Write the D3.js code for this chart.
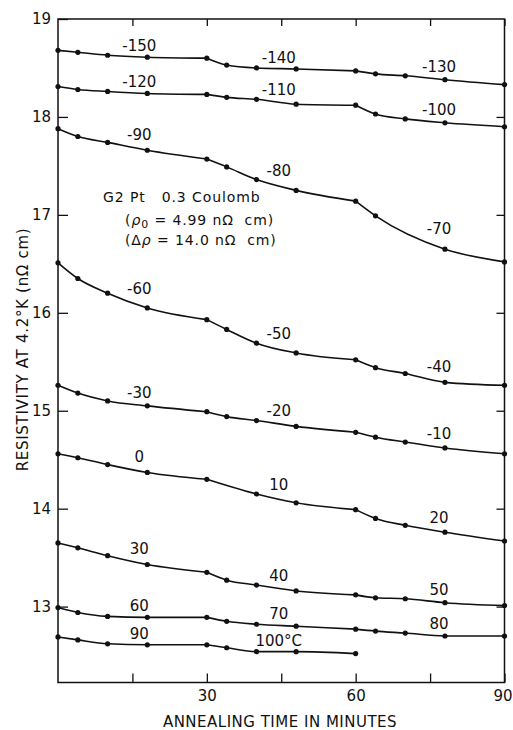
<!DOCTYPE html>
<html>
<head>
<meta charset="utf-8">
<script src="https://cdn.jsdelivr.net/npm/d3@7"></script>
<style>
  html, body { margin: 0; padding: 0; background: #fff; }
  svg { display: block; font-family: "DejaVu Sans", "Liberation Sans", sans-serif; }
  text { fill: #111; }
</style>
</head>
<body>
<svg id="chart" width="513" height="730"></svg>
<script>
// Cumulative annealing time (minutes) at which resistivity was measured
const times = [0, 4, 10, 18, 30, 34, 40, 48, 60, 64, 70, 78, 90];

// Resistivity at 4.2 K (nΩ cm) for each run; null = no measurement
const curveM150 = [18.68, 18.66, 18.63, 18.61, 18.60, 18.53, 18.50, 18.49, 18.47, 18.44, 18.42, 18.38, 18.33];
const curveM120 = [18.31, 18.28, 18.26, 18.24, 18.23, 18.20, 18.18, 18.13, 18.12, 18.03, 17.98, 17.94, 17.90];
const curveM90  = [17.88, 17.80, 17.74, 17.66, 17.57, 17.49, 17.36, 17.25, 17.14, 16.99, null, 16.65, 16.52];
const curveM60  = [16.51, 16.35, 16.20, 16.05, 15.93, 15.83, 15.69, 15.59, 15.52, 15.44, 15.38, 15.29, 15.26];
const curveM30  = [15.26, 15.18, 15.10, 15.05, 14.99, 14.94, 14.90, 14.84, 14.78, 14.73, 14.68, 14.62, 14.56];
const curve0    = [14.56, 14.52, 14.45, 14.37, 14.30, null, 14.15, 14.06, 13.99, 13.90, 13.83, 13.76, 13.67];
const curve30   = [13.65, 13.60, 13.52, 13.43, 13.35, 13.27, 13.22, 13.16, 13.12, 13.09, 13.08, 13.04, 13.01];
const curve60   = [12.99, 12.94, 12.90, 12.89, 12.89, 12.85, 12.82, 12.80, 12.77, 12.75, 12.73, 12.70, 12.70];
const curve90   = [12.69, 12.66, 12.62, 12.61, 12.61, 12.58, 12.54, 12.54, 12.52, null, null, null, null];

// Annealing temperature (°C) for each 30-minute stage of each run
const tempsM150 = ["-150", "-140", "-130"];
const tempsM120 = ["-120", "-110", "-100"];
const tempsM90  = ["-90", "-80", "-70"];
const tempsM60  = ["-60", "-50", "-40"];
const tempsM30  = ["-30", "-20", "-10"];
const temps0    = ["0", "10", "20"];
const temps30   = ["30", "40", "50"];
const temps60   = ["60", "70", "80"];
const temps90   = ["90", "100°C"];

// Stage boundaries (minutes) and where each stage's temperature is written
const stageBreaks = [0, 30, 60, 90];
const stageLabelTimes = [16.4, 44.5, 76.8];

// Axis ticks
const xTicks = [15, 30, 45, 60, 75, 90];
const xTickLabels = [30, 60, 90];
const yTicks = [13, 14, 15, 16, 17, 18, 19];

const runs = [
  { values: curveM150, temps: tempsM150 },
  { values: curveM120, temps: tempsM120 },
  { values: curveM90,  temps: tempsM90 },
  { values: curveM60,  temps: tempsM60 },
  { values: curveM30,  temps: tempsM30 },
  { values: curve0,    temps: temps0 },
  { values: curve30,   temps: temps30 },
  { values: curve60,   temps: temps60 },
  { values: curve90,   temps: temps90 }
];

const svg = d3.select("#chart");
const plotL = 58, plotR = 504.5, plotT = 19, plotB = 682.5;

const x = d3.scaleLinear().domain([0, 90]).range([plotL, plotR]);
const y = d3.scaleLinear().domain([12.225, 19]).range([plotB, plotT]);

const ink = "#111";

// Axes: ticks point into the plot, frame drawn separately
const gx = svg.append("g").attr("transform", `translate(0,${plotB})`)
  .call(d3.axisBottom(x).tickValues(xTicks).tickSize(-9).tickPadding(8)
    .tickFormat(d => xTickLabels.includes(d) ? d : ""));
const gxTop = svg.append("g").attr("transform", `translate(0,${plotT})`)
  .call(d3.axisTop(x).tickValues(xTicks).tickSize(-7).tickFormat(""));
const gy = svg.append("g").attr("transform", `translate(${plotL},0)`)
  .call(d3.axisLeft(y).tickValues(yTicks).tickSize(-10).tickPadding(7).tickFormat(d3.format("d")));
const gyRight = svg.append("g").attr("transform", `translate(${plotR},0)`)
  .call(d3.axisRight(y).tickValues(yTicks.slice(0, -1)).tickSize(-8).tickFormat(""));

[gx, gxTop, gy, gyRight].forEach(g => {
  g.select(".domain").remove();
  g.selectAll(".tick line").attr("stroke", ink).attr("stroke-width", 1.3);
  g.selectAll(".tick text").attr("fill", ink).style("font-size", "15px")
    .style("font-family", "DejaVu Sans, sans-serif");
});

// The last time label sits against the page edge: keep it inside the page
gx.selectAll(".tick").filter(d => d === 90).select("text")
  .attr("text-anchor", "end").attr("x", 512 - plotR);

svg.append("rect")
  .attr("x", plotL).attr("y", plotT)
  .attr("width", plotR - plotL).attr("height", plotB - plotT)
  .attr("fill", "none").attr("stroke", ink).attr("stroke-width", 1.5);

// Axis titles
svg.append("text")
  .attr("transform", `translate(28,${(227 + 472) / 2}) rotate(-90)`)
  .attr("text-anchor", "middle")
  .style("font-size", "15px").style("letter-spacing", "0.7px")
  .text("RESISTIVITY AT 4.2°K (nΩ cm)");

svg.append("text")
  .attr("x", (163 + 397) / 2).attr("y", 727)
  .attr("text-anchor", "middle")
  .style("font-size", "15px").style("letter-spacing", "0.5px")
  .text("ANNEALING TIME IN MINUTES");

// Sample annotation
const note = svg.append("g").style("font-size", "14px").style("letter-spacing", "0.9px");
note.append("text").attr("x", 103).attr("y", 201.5)
  .attr("xml:space", "preserve").style("white-space", "pre")
  .text("G2 Pt   0.3 Coulomb");
const l2 = note.append("text").attr("x", 125).attr("y", 224.5)
  .attr("xml:space", "preserve").style("white-space", "pre");
l2.append("tspan").text("(");
l2.append("tspan").style("font-style", "italic").text("ρ");
l2.append("tspan").attr("dy", 3).style("font-size", "11px").text("0");
l2.append("tspan").attr("dy", -3).text(" = 4.99 nΩ  cm)");
const l3 = note.append("text").attr("x", 125).attr("y", 245)
  .attr("xml:space", "preserve").style("white-space", "pre");
l3.append("tspan").text("(Δ");
l3.append("tspan").style("font-style", "italic").text("ρ");
l3.append("tspan").text(" = 14.0 nΩ  cm)");

// Curves: each 30-minute stage is a separate smooth piece, so the slope
// can change abruptly when the annealing temperature is raised
const line = d3.line().x(d => x(d.t)).y(d => y(d.v)).curve(d3.curveMonotoneX);

function pointsOf(values) {
  return times.map((t, i) => ({ t, v: values[i] })).filter(d => d.v !== null);
}

function valueAt(pts, t) {
  for (let i = 1; i < pts.length; i++) {
    if (pts[i].t >= t) {
      const a = pts[i - 1], b = pts[i];
      return a.v + (b.v - a.v) * (t - a.t) / (b.t - a.t);
    }
  }
  return pts[pts.length - 1].v;
}

const plot = svg.append("g");
runs.forEach(run => {
  const pts = pointsOf(run.values);
  for (let s = 0; s < 3; s++) {
    const seg = pts.filter(d => d.t >= stageBreaks[s] && d.t <= stageBreaks[s + 1]);
    if (seg.length < 2) continue;
    plot.append("path").datum(seg)
      .attr("d", line)
      .attr("fill", "none").attr("stroke", ink).attr("stroke-width", 1.6);
  }
  plot.selectAll(null).data(pts).enter().append("circle")
    .attr("cx", d => x(d.t)).attr("cy", d => y(d.v)).attr("r", 2.6)
    .attr("fill", ink);

  run.temps.forEach((label, s) => {
    const t = stageLabelTimes[s];
    plot.append("text")
      .attr("x", x(t)).attr("y", y(valueAt(pts, t - 3)) - 5.5)
      .attr("text-anchor", "middle")
      .style("font-size", "15px")
      .text(label);
  });
});
</script>
</body>
</html>
